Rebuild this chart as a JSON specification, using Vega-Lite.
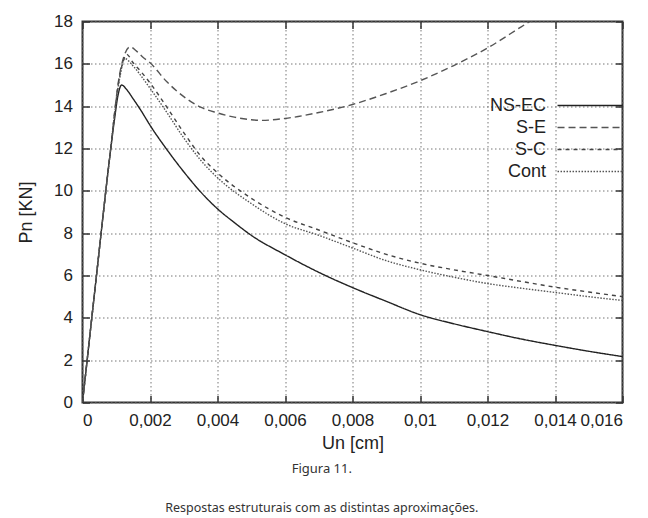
{
  "$schema": "https://vega.github.io/schema/vega-lite/v6.json",
  "autosize": {"type": "none"},
  "padding": {"left": 82.5, "top": 21.5, "right": 25.5, "bottom": 115.5},
  "width": 540,
  "height": 381,
  "background": "white",
  "title": {
    "text": "Figura 11.",
    "subtitle": "Respostas estruturais com as distintas aproximações.",
    "orient": "bottom",
    "anchor": "middle",
    "frame": "bounds",
    "font": "Noto Sans",
    "fontSize": 13,
    "fontWeight": "normal",
    "color": "#333",
    "subtitleFont": "Noto Sans",
    "subtitleFontSize": 12.5,
    "subtitleColor": "#333",
    "subtitlePadding": 26,
    "offset": 10
  },
  "data": {
    "values": [
      {"s": "NS-EC", "x": 0, "y": 0},
      {"s": "NS-EC", "x": 0.0004, "y": 5.8},
      {"s": "NS-EC", "x": 0.0008, "y": 11.5},
      {"s": "NS-EC", "x": 0.00095, "y": 13.4},
      {"s": "NS-EC", "x": 0.00105, "y": 14.5},
      {"s": "NS-EC", "x": 0.00116, "y": 15.0},
      {"s": "NS-EC", "x": 0.0013, "y": 14.8},
      {"s": "NS-EC", "x": 0.0015, "y": 14.35},
      {"s": "NS-EC", "x": 0.00175, "y": 13.75},
      {"s": "NS-EC", "x": 0.002, "y": 13.1},
      {"s": "NS-EC", "x": 0.0025, "y": 11.95},
      {"s": "NS-EC", "x": 0.003, "y": 10.9},
      {"s": "NS-EC", "x": 0.0035, "y": 9.95},
      {"s": "NS-EC", "x": 0.004, "y": 9.15},
      {"s": "NS-EC", "x": 0.0045, "y": 8.5},
      {"s": "NS-EC", "x": 0.005, "y": 7.9},
      {"s": "NS-EC", "x": 0.006, "y": 6.98},
      {"s": "NS-EC", "x": 0.007, "y": 6.15},
      {"s": "NS-EC", "x": 0.008, "y": 5.43},
      {"s": "NS-EC", "x": 0.009, "y": 4.78},
      {"s": "NS-EC", "x": 0.010, "y": 4.15},
      {"s": "NS-EC", "x": 0.011, "y": 3.72},
      {"s": "NS-EC", "x": 0.012, "y": 3.35},
      {"s": "NS-EC", "x": 0.013, "y": 3.0},
      {"s": "NS-EC", "x": 0.014, "y": 2.7},
      {"s": "NS-EC", "x": 0.015, "y": 2.42},
      {"s": "NS-EC", "x": 0.016, "y": 2.17},
      {"s": "S-E", "x": 0, "y": 0},
      {"s": "S-E", "x": 0.0004, "y": 5.8},
      {"s": "S-E", "x": 0.0008, "y": 11.5},
      {"s": "S-E", "x": 0.0011, "y": 15.5},
      {"s": "S-E", "x": 0.00125, "y": 16.45},
      {"s": "S-E", "x": 0.00141, "y": 16.8},
      {"s": "S-E", "x": 0.0016, "y": 16.6},
      {"s": "S-E", "x": 0.0018, "y": 16.3},
      {"s": "S-E", "x": 0.002, "y": 16.05},
      {"s": "S-E", "x": 0.0025, "y": 15.15},
      {"s": "S-E", "x": 0.003, "y": 14.45},
      {"s": "S-E", "x": 0.0035, "y": 13.95},
      {"s": "S-E", "x": 0.004, "y": 13.68},
      {"s": "S-E", "x": 0.0045, "y": 13.48},
      {"s": "S-E", "x": 0.005, "y": 13.36},
      {"s": "S-E", "x": 0.0053, "y": 13.33},
      {"s": "S-E", "x": 0.006, "y": 13.42},
      {"s": "S-E", "x": 0.007, "y": 13.7},
      {"s": "S-E", "x": 0.008, "y": 14.08},
      {"s": "S-E", "x": 0.009, "y": 14.6},
      {"s": "S-E", "x": 0.010, "y": 15.2},
      {"s": "S-E", "x": 0.011, "y": 15.92},
      {"s": "S-E", "x": 0.012, "y": 16.75},
      {"s": "S-E", "x": 0.013, "y": 17.75},
      {"s": "S-E", "x": 0.0133, "y": 18.05},
      {"s": "S-C", "x": 0, "y": 0},
      {"s": "S-C", "x": 0.0004, "y": 5.8},
      {"s": "S-C", "x": 0.0008, "y": 11.5},
      {"s": "S-C", "x": 0.0011, "y": 15.4},
      {"s": "S-C", "x": 0.0012, "y": 16.1},
      {"s": "S-C", "x": 0.00131, "y": 16.45},
      {"s": "S-C", "x": 0.0015, "y": 16.05},
      {"s": "S-C", "x": 0.00175, "y": 15.6},
      {"s": "S-C", "x": 0.002, "y": 15.1},
      {"s": "S-C", "x": 0.0025, "y": 13.95},
      {"s": "S-C", "x": 0.003, "y": 12.75},
      {"s": "S-C", "x": 0.0035, "y": 11.65},
      {"s": "S-C", "x": 0.004, "y": 10.85},
      {"s": "S-C", "x": 0.005, "y": 9.65},
      {"s": "S-C", "x": 0.006, "y": 8.75},
      {"s": "S-C", "x": 0.007, "y": 8.15},
      {"s": "S-C", "x": 0.008, "y": 7.55},
      {"s": "S-C", "x": 0.009, "y": 7.0},
      {"s": "S-C", "x": 0.010, "y": 6.58},
      {"s": "S-C", "x": 0.011, "y": 6.27},
      {"s": "S-C", "x": 0.012, "y": 6.0},
      {"s": "S-C", "x": 0.013, "y": 5.72},
      {"s": "S-C", "x": 0.014, "y": 5.45},
      {"s": "S-C", "x": 0.015, "y": 5.22},
      {"s": "S-C", "x": 0.016, "y": 5.0},
      {"s": "Cont", "x": 0, "y": 0},
      {"s": "Cont", "x": 0.0004, "y": 5.8},
      {"s": "Cont", "x": 0.0008, "y": 11.5},
      {"s": "Cont", "x": 0.0011, "y": 15.3},
      {"s": "Cont", "x": 0.00125, "y": 16.25},
      {"s": "Cont", "x": 0.0015, "y": 15.9},
      {"s": "Cont", "x": 0.00175, "y": 15.4},
      {"s": "Cont", "x": 0.002, "y": 14.85},
      {"s": "Cont", "x": 0.0025, "y": 13.7},
      {"s": "Cont", "x": 0.003, "y": 12.5},
      {"s": "Cont", "x": 0.0035, "y": 11.45},
      {"s": "Cont", "x": 0.004, "y": 10.62},
      {"s": "Cont", "x": 0.005, "y": 9.4},
      {"s": "Cont", "x": 0.006, "y": 8.45},
      {"s": "Cont", "x": 0.007, "y": 7.9},
      {"s": "Cont", "x": 0.008, "y": 7.3},
      {"s": "Cont", "x": 0.009, "y": 6.7},
      {"s": "Cont", "x": 0.010, "y": 6.27},
      {"s": "Cont", "x": 0.011, "y": 5.92},
      {"s": "Cont", "x": 0.012, "y": 5.62},
      {"s": "Cont", "x": 0.013, "y": 5.4},
      {"s": "Cont", "x": 0.014, "y": 5.2},
      {"s": "Cont", "x": 0.015, "y": 5.0},
      {"s": "Cont", "x": 0.016, "y": 4.82}
    ]
  },
  "layer": [
    {
      "mark": {"type": "line", "strokeWidth": 1.4, "interpolate": "monotone", "clip": true},
      "encoding": {
        "x": {
          "field": "x", "type": "quantitative",
          "scale": {"domain": [0, 0.016], "nice": false, "zero": false},
          "axis": {
            "orient": "bottom",
            "grid": true,
            "tickSize": -7,
            "values": [0, 0.002, 0.004, 0.006, 0.008, 0.01, 0.012, 0.014, 0.016],
            "labelExpr": "replace(format(datum.value, '~g'), '.', ',')",
            "title": "Un [cm]",
            "labelPadding": 17,
            "titlePadding": 6
          }
        },
        "y": {
          "field": "y", "type": "quantitative",
          "scale": {"domain": [0, 18], "nice": false},
          "axis": {
            "orient": "left",
            "grid": true,
            "tickSize": -7,
            "values": [0, 2, 4, 6, 8, 10, 12, 14, 16, 18],
            "title": "Pn [KN]",
            "labelPadding": 17,
            "titlePadding": 18
          }
        },
        "strokeDash": {
          "field": "s", "type": "nominal",
          "scale": {"domain": ["NS-EC", "S-E", "S-C", "Cont"], "range": [[1, 0], [7, 4], [4, 4], [1.5, 1.5]]},
          "legend": {
            "orient": "none", "legendX": 498.5, "legendY": 75,
            "title": null, "labelAlign": "right", "labelOffset": -53,
            "symbolType": "M-4.33,0H4.33", "symbolSize": 225, "symbolStrokeWidth": 1.4,
            "labelFont": "Liberation Sans", "labelFontSize": 18, "labelColor": "#222",
            "rowPadding": 4, "padding": 0, "labelLimit": 200
          }
        },
        "color": {
          "field": "s", "type": "nominal",
          "scale": {"domain": ["NS-EC", "S-E", "S-C", "Cont"], "range": ["#222222", "#555555", "#444444", "#555555"]},
          "legend": {
            "orient": "none", "legendX": 498.5, "legendY": 75,
            "title": null, "labelAlign": "right", "labelOffset": -53,
            "symbolType": "M-4.33,0H4.33", "symbolSize": 225, "symbolStrokeWidth": 1.4,
            "labelFont": "Liberation Sans", "labelFontSize": 18, "labelColor": "#222",
            "rowPadding": 4, "padding": 0, "labelLimit": 200
          }
        }
      }
    },
    {
      "mark": {"type": "point", "opacity": 0},
      "encoding": {
        "x": {
          "field": "x", "type": "quantitative",
          "axis": {"orient": "top", "tickSize": -7, "values": [0, 0.002, 0.004, 0.006, 0.008, 0.01, 0.012, 0.014, 0.016], "labels": false, "title": null, "grid": false}
        },
        "y": {
          "field": "y", "type": "quantitative",
          "axis": {"orient": "right", "tickSize": -7, "values": [0, 2, 4, 6, 8, 10, 12, 14, 16, 18], "labels": false, "title": null, "grid": false}
        }
      }
    }
  ],
  "resolve": {"axis": {"x": "independent", "y": "independent"}},
  "config": {
    "view": {"stroke": "#333", "strokeWidth": 2},
    "axis": {
      "labelFont": "Liberation Sans", "labelFontSize": 17, "labelColor": "#222",
      "titleFont": "Liberation Sans", "titleFontSize": 18, "titleFontWeight": "normal", "titleColor": "#222",
      "gridColor": "#777", "gridDash": [1.5, 2.5], "gridWidth": 1, "gridOpacity": 1,
      "domain": false, "ticks": true, "tickColor": "#333", "tickWidth": 1.5
    }
  }
}
